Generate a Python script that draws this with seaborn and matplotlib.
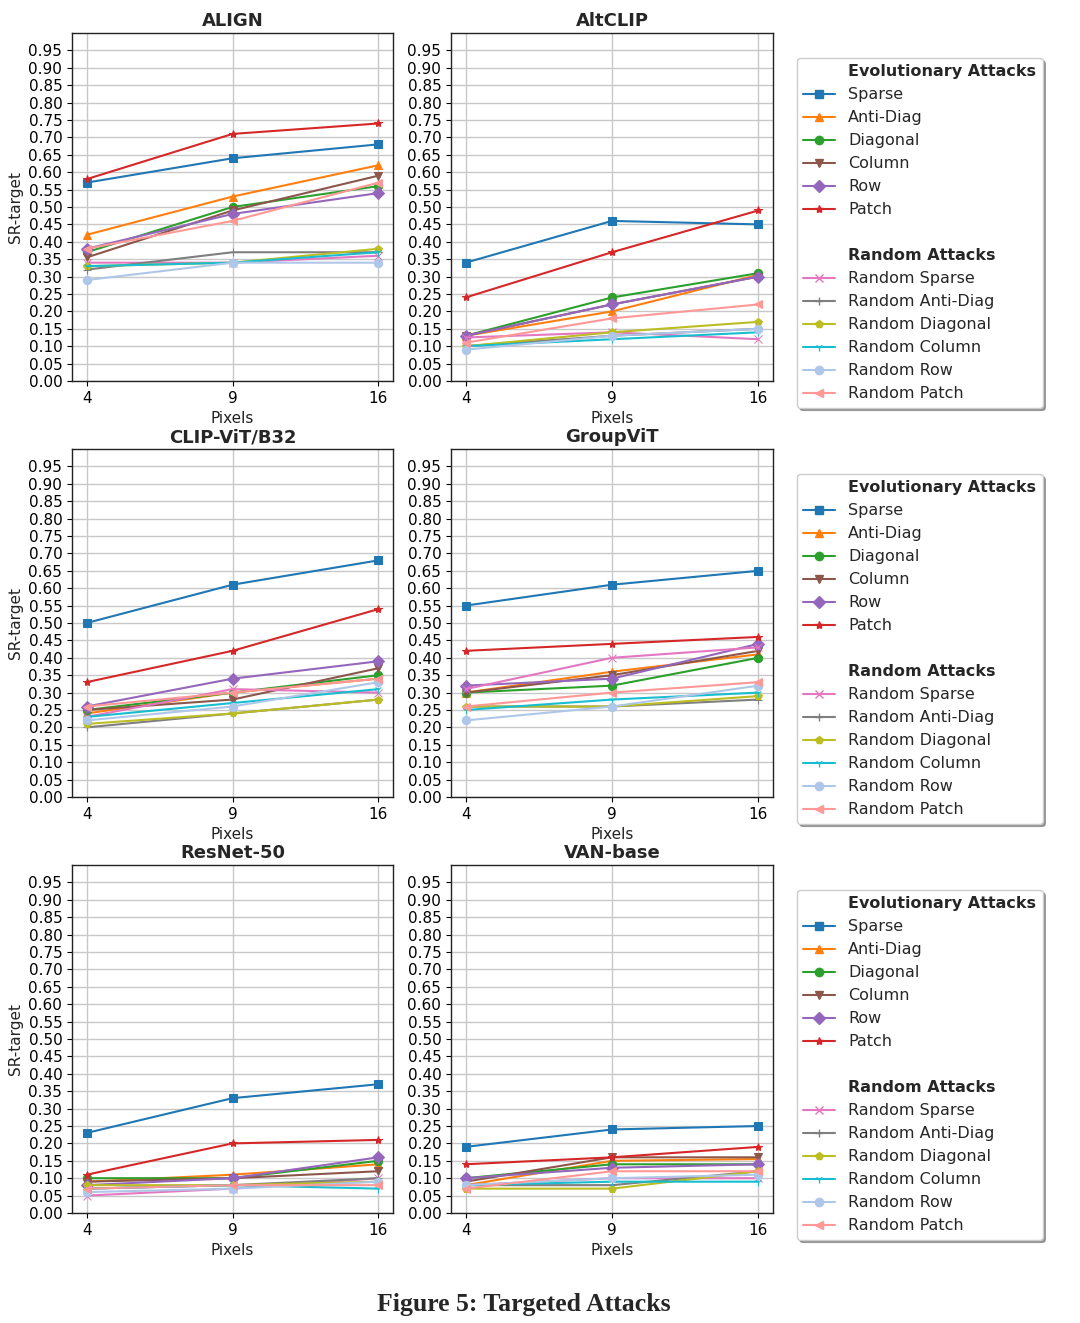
import numpy as np
import matplotlib
matplotlib.use("Agg")
import matplotlib.pyplot as plt
from matplotlib.lines import Line2D
import seaborn as sns

# ==========================================
# DATA
# ==========================================

pixels = ["4", "9", "16"]

evo_names = ["Sparse", "Anti-Diag", "Diagonal", "Column", "Row", "Patch"]
rand_names = ["Random Sparse", "Random Anti-Diag", "Random Diagonal",
              "Random Column", "Random Row", "Random Patch"]

colors = ["#1f77b4", "#ff7f0e", "#2ca02c", "#8c564b", "#9467bd", "#d62728",
          "#e377c2", "#7f7f7f", "#bcbd22", "#17becf", "#aec7e8", "#ff9896"]
markers = ["s", "^", "o", "v", "D", "*", "x", "+", "p", "1", "o", "<"]

# order: Sparse, Anti-Diag, Diagonal, Column, Row, Patch, then the random ones
align = [[0.57, 0.64, 0.68], [0.42, 0.53, 0.62], [0.37, 0.50, 0.56],
         [0.355, 0.49, 0.59], [0.38, 0.48, 0.54], [0.58, 0.71, 0.74],
         [0.34, 0.34, 0.36], [0.32, 0.37, 0.37], [0.33, 0.34, 0.38],
         [0.33, 0.34, 0.37], [0.29, 0.34, 0.34], [0.38, 0.46, 0.57]]

altclip = [[0.34, 0.46, 0.45], [0.13, 0.20, 0.305], [0.13, 0.24, 0.31],
           [0.13, 0.22, 0.30], [0.13, 0.22, 0.30], [0.24, 0.37, 0.49],
           [0.125, 0.14, 0.12], [0.10, 0.13, 0.15], [0.10, 0.14, 0.17],
           [0.10, 0.12, 0.14], [0.09, 0.13, 0.15], [0.11, 0.18, 0.22]]

clip_vit = [[0.50, 0.61, 0.68], [0.24, 0.30, 0.34], [0.25, 0.30, 0.35],
            [0.25, 0.28, 0.37], [0.26, 0.34, 0.39], [0.33, 0.42, 0.54],
            [0.23, 0.31, 0.30], [0.20, 0.24, 0.28], [0.21, 0.24, 0.28],
            [0.23, 0.27, 0.31], [0.22, 0.26, 0.33], [0.26, 0.30, 0.34]]

groupvit = [[0.55, 0.61, 0.65], [0.30, 0.36, 0.41], [0.30, 0.32, 0.40],
            [0.30, 0.35, 0.42], [0.32, 0.34, 0.44], [0.42, 0.44, 0.46],
            [0.31, 0.40, 0.43], [0.26, 0.26, 0.28], [0.26, 0.26, 0.29],
            [0.25, 0.28, 0.30], [0.22, 0.26, 0.32], [0.26, 0.30, 0.33]]

resnet50 = [[0.23, 0.33, 0.37], [0.09, 0.11, 0.14], [0.10, 0.10, 0.15],
            [0.09, 0.10, 0.12], [0.08, 0.10, 0.16], [0.11, 0.20, 0.21],
            [0.05, 0.07, 0.10], [0.07, 0.08, 0.10], [0.08, 0.08, 0.09],
            [0.07, 0.08, 0.07], [0.06, 0.07, 0.09], [0.07, 0.08, 0.08]]

van_base = [[0.19, 0.24, 0.25], [0.08, 0.15, 0.155], [0.10, 0.14, 0.14],
            [0.09, 0.16, 0.16], [0.10, 0.13, 0.14], [0.14, 0.16, 0.19],
            [0.08, 0.10, 0.10], [0.08, 0.08, 0.12], [0.07, 0.07, 0.12],
            [0.08, 0.09, 0.09], [0.08, 0.10, 0.11], [0.07, 0.12, 0.12]]

panels = [("ALIGN", align), ("AltCLIP", altclip),
          ("CLIP-ViT/B32", clip_vit), ("GroupViT", groupvit),
          ("ResNet-50", resnet50), ("VAN-base", van_base)]

# ==========================================
# STYLE
# ==========================================

sns.set_style("whitegrid", {
    "axes.edgecolor": "black",
    "grid.color": "#c8c8c8",
    "xtick.bottom": True,
    "ytick.left": True,
})
plt.rcParams.update({
    "font.family": ["DejaVu Sans"],
    "font.size": 11,
    "xtick.labelsize": 11,
    "ytick.labelsize": 11,
    "axes.labelsize": 11,
    "axes.titlesize": 13,
    "axes.titleweight": "bold",
    "legend.fontsize": 11.5,
    "axes.linewidth": 1.0,
    "grid.linewidth": 1.0,
    "xtick.color": "black",
    "ytick.color": "black",
    "axes.labelcolor": "#222222",
})

W, H = 1080, 1323
fig = plt.figure(figsize=(W / 100, H / 100), dpi=100)

col_left = [72, 451]
col_width = [321, 322]
row_top = [33, 449, 865]
ax_height = 348

x_pos = np.arange(len(pixels))
names = evo_names + rand_names

for i, (title, data) in enumerate(panels):
    r, c = divmod(i, 2)
    ax = fig.add_axes([col_left[c] / W, 1 - (row_top[r] + ax_height) / H,
                       col_width[c] / W, ax_height / H])
    for k, vals in enumerate(data):
        sns.lineplot(x=x_pos, y=vals, color=colors[k], marker=markers[k],
                     markersize=6, markeredgecolor=colors[k],
                     linewidth=1.5, ax=ax)
    ax.set_title(title, pad=5)
    ax.set_xticks(x_pos)
    ax.set_xticklabels(pixels)
    ax.set_ylim(0, 1.0)
    ax.set_yticks(np.arange(0, 0.951, 0.05))
    ax.set_yticklabels([f"{v:.2f}" for v in np.arange(0, 0.951, 0.05)])
    ax.set_xlabel("Pixels")
    ax.set_ylabel("SR-target" if c == 0 else "")
    for s in ax.spines.values():
        s.set_color("#222222")

# ==========================================
# LEGENDS (one per row)
# ==========================================

def blank(label):
    return Line2D([], [], color="none", label=label)

handles = [blank("Evolutionary Attacks")]
for k in range(6):
    handles.append(Line2D([], [], color=colors[k], marker=markers[k],
                          markersize=6, linewidth=1.5, label=names[k]))
handles.append(blank(" "))
handles.append(blank("Random Attacks"))
for k in range(6, 12):
    handles.append(Line2D([], [], color=colors[k], marker=markers[k],
                          markersize=6, linewidth=1.5, label=names[k]))

for top in [58, 474, 890]:
    leg = fig.legend(handles=handles, loc="upper left",
                     bbox_to_anchor=(797 / W, 1 - top / H),
                     borderaxespad=0, shadow=True, fancybox=True,
                     frameon=True, edgecolor="#cccccc")
    for t in leg.get_texts():
        if t.get_text() in ("Evolutionary Attacks", "Random Attacks"):
            t.set_fontweight("bold")

fig.text(524 / W, 1 - 1305 / H, "Figure 5: Targeted Attacks",
         ha="center", va="center", fontsize=18.5, fontweight="bold",
         family=["Liberation Serif", "DejaVu Serif"])

fig.savefig("out.png", dpi=100)
